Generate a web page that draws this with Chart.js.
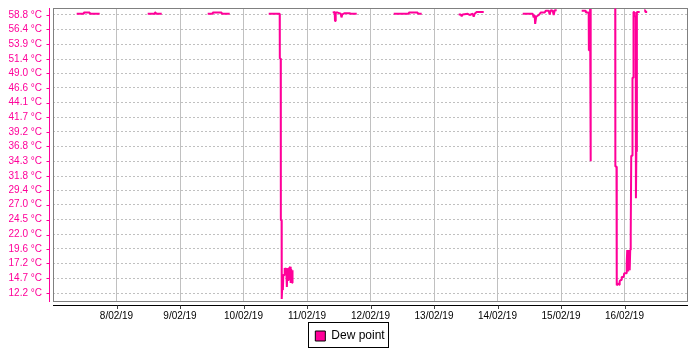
<!DOCTYPE html>
<html><head><meta charset="utf-8">
<script src="https://cdn.jsdelivr.net/npm/chart.js@4/dist/chart.umd.min.js"></script>
<style>html,body{margin:0;padding:0;background:#fff}</style>
</head><body>
<canvas id="c" width="700" height="350"></canvas>
<script>
// Series
const seriesName = 'Dew point';
// time in days of February 2019 (7.0 = 7/02/19 00:00); null = gap in the record
const times = [
  7.373,7.483,7.486,7.578,7.581,7.735, null,
  8.491,8.600,8.605,8.617,8.620,8.712, null,
  9.436,9.513,9.516,9.655,9.658,9.783, null,
  10.397,10.570,10.572,10.586,10.588,10.600,10.602,10.609,10.620,10.627,10.641,10.649,10.665,10.672,10.683,10.690,10.704,10.712,10.735,10.743,10.751,10.767,10.772, null,
  11.405,11.436,11.441,11.452,11.483,11.531,11.543,11.556,11.594,11.672,11.688,11.783, null,
  12.365,12.601,12.604,12.743,12.746,12.806, null,
  13.389,13.420,13.436,13.452,13.531,13.562,13.609,13.625,13.641,13.672,13.783, null,
  14.397,14.554,14.570,14.585,14.593,14.609,14.649,14.665,14.680,14.743,14.759,14.806,14.822,14.839,14.869,14.885,14.901,14.932, null,
  15.326,15.389,15.392,15.436,15.439,15.455,15.458,15.466,15.469, null,
  15.846,15.854,15.856,15.874,15.878,15.901,15.917,15.924,15.948,15.956,15.987,15.995,16.030,16.035,16.043,16.058,16.074,16.082,16.090,16.098,16.106,16.121,16.126,16.137,16.142,16.153,16.161,16.176,16.180,16.187,16.195,16.239, null,
  16.310,16.326,16.328,16.357
];
const dewPoint = [
  59.0,59.0,59.2,59.2,59.0,59.0, null,
  59.0,59.0,59.2,59.2,59.0,59.0, null,
  59.0,59.0,59.2,59.2,59.0,59.0, null,
  59.0,59.0,51.5,51.5,24.4,24.4,11.2,13.0,12.7,15.2,15.2,16.4,15.7,16.4,13.2,15.7,14.4,16.2,16.6,13.9,16.2,13.9,16.0, null,
  59.2,59.3,57.8,59.2,59.2,59.0,58.4,58.9,59.1,59.1,59.0,59.0, null,
  59.0,59.0,59.2,59.2,59.0,59.0, null,
  58.9,58.9,58.6,58.9,59.0,58.8,59.0,58.5,59.0,59.3,59.3, null,
  59.0,59.0,58.4,58.8,57.3,58.5,58.8,59.0,59.2,59.2,59.5,59.5,58.9,59.6,59.5,58.8,59.6,59.6, null,
  59.5,59.5,59.2,59.2,52.9,52.9,59.8,59.8,34.3, null,
  59.8,59.8,33.4,33.4,13.5,13.8,13.6,14.2,14.4,14.9,14.9,15.5,15.5,17.2,19.4,15.8,19.4,16.0,19.4,21.9,35.2,35.2,48.3,48.3,59.3,59.3,58.6,58.6,28.1,35.9,59.3,59.3, null,
  59.6,59.6,59.3,59.3
];
// Axes
const xTickDays = [8, 9, 10, 11, 12, 13, 14, 15, 16];
const xTickLabels = ['8/02/19','9/02/19','10/02/19','11/02/19','12/02/19','13/02/19','14/02/19','15/02/19','16/02/19'];
const yTickValues = [12.2,14.7,17.2,19.6,22.0,24.5,27.0,29.4,31.8,34.3,36.8,39.2,41.7,44.1,46.6,49.0,51.4,53.9,56.4,58.8];
const xRange = [7.0, 17.0];
const yRange = [10.86, 59.97];

const PINK = '#ff0099';
const FONT = "'Liberation Sans', Arial, sans-serif";

let lastT = times[0];
const points = times.map((t, i) => {
  if (t === null) return {x: lastT, y: null};
  lastT = t;
  return {x: t, y: dewPoint[i]};
});

const framePlugin = {
  id: 'frame',
  beforeDatasetsDraw(chart) {
    const {ctx, chartArea: a} = chart;
    ctx.save();
    ctx.strokeStyle = '#808080';
    ctx.lineWidth = 1;
    ctx.strokeRect(a.left + 0.5, a.top + 0.5, a.right - a.left - 1, a.bottom - a.top);
    ctx.restore();
  },
  afterDraw(chart) {
    const {ctx, chartArea: a, scales: {x, y}} = chart;
    ctx.save();
    ctx.lineWidth = 1;
    // left value axis (pink)
    ctx.strokeStyle = PINK;
    ctx.beginPath();
    const ax = a.left - 3.5;
    ctx.moveTo(ax, a.top); ctx.lineTo(ax, a.bottom + 1);
    y.ticks.forEach(t => {
      const py = Math.round(y.getPixelForValue(t.value)) + 0.5;
      ctx.moveTo(ax - 3, py); ctx.lineTo(ax, py);
    });
    ctx.stroke();
    // bottom date axis (black)
    ctx.strokeStyle = '#000';
    ctx.beginPath();
    const ay = a.bottom + 4.5;
    ctx.moveTo(a.left, ay); ctx.lineTo(a.right, ay);
    ctx.stroke();
    ctx.strokeStyle = '#404040';
    ctx.beginPath();
    x.ticks.forEach(t => {
      const px = Math.round(x.getPixelForValue(t.value)) + 0.5;
      ctx.moveTo(px, ay); ctx.lineTo(px, ay + 3.5);
    });
    ctx.stroke();
    // legend frame
    const hb = chart.legend.legendHitBoxes[0];
    if (hb) {
      ctx.strokeStyle = '#000';
      ctx.strokeRect(Math.round(hb.left) - 6.5, Math.round(hb.top) - 7.5, Math.round(hb.width) + 11, 25);
    }
    ctx.restore();
  }
};

new Chart(document.getElementById('c'), {
  type: 'line',
  data: {
    datasets: [{
      label: seriesName,
      data: points,
      borderColor: PINK,
      backgroundColor: PINK,
      borderWidth: 2,
      borderJoinStyle: 'bevel',
      pointRadius: 0,
      pointHoverRadius: 0,
      tension: 0,
      spanGaps: false,
      fill: false
    }]
  },
  options: {
    responsive: false,
    animation: false,
    devicePixelRatio: 1,
    parsing: false,
    normalized: true,
    layout: {padding: {top: 8, right: 0, left: 0, bottom: 0}},
    plugins: {
      tooltip: {enabled: false},
      legend: {
        position: 'bottom',
        maxHeight: 20,
        labels: {
          boxWidth: 10,
          boxHeight: 10,
          padding: 0,
          color: '#000',
          font: {family: FONT, size: 12},
          generateLabels: () => [{
            text: seriesName, fillStyle: PINK, strokeStyle: '#000', lineWidth: 1,
            hidden: false, datasetIndex: 0
          }]
        }
      }
    },
    scales: {
      x: {
        type: 'linear',
        min: xRange[0], max: xRange[1],
        afterFit: s => { s.height = 29; },
        afterBuildTicks: s => { s.ticks = xTickDays.map(v => ({value: v})); },
        ticks: {
          padding: 0,
          color: '#000',
          font: {family: FONT, size: 10},
          maxRotation: 0,
          autoSkip: false,
          callback: (v) => { const i = xTickDays.indexOf(v); return i >= 0 ? xTickLabels[i] : ''; }
        },
        grid: {color: '#c0c0c0', lineWidth: 1, drawTicks: true, tickLength: 9, tickColor: 'rgba(0,0,0,0)'},
        border: {display: false}
      },
      y: {
        type: 'linear',
        min: yRange[0], max: yRange[1],
        afterFit: s => { s.width = 53; },
        afterBuildTicks: s => { s.ticks = yTickValues.map(v => ({value: v})); },
        ticks: {
          padding: 0,
          color: PINK,
          font: {family: FONT, size: 10},
          autoSkip: false,
          callback: (v) => v.toFixed(1) + ' °C'
        },
        grid: {color: '#c0c0c0', lineWidth: 1, drawTicks: true, tickLength: 11, tickColor: 'rgba(0,0,0,0)', tickBorderDash: [2, 2]},
        border: {display: false, dash: [2, 2]}
      },
      yRight: {
        type: 'linear',
        position: 'right',
        display: true,
        afterFit: s => { s.width = 12; },
        ticks: {display: false},
        grid: {display: false, drawTicks: false},
        border: {display: false}
      }
    }
  },
  plugins: [framePlugin]
});
</script>
</body></html>
